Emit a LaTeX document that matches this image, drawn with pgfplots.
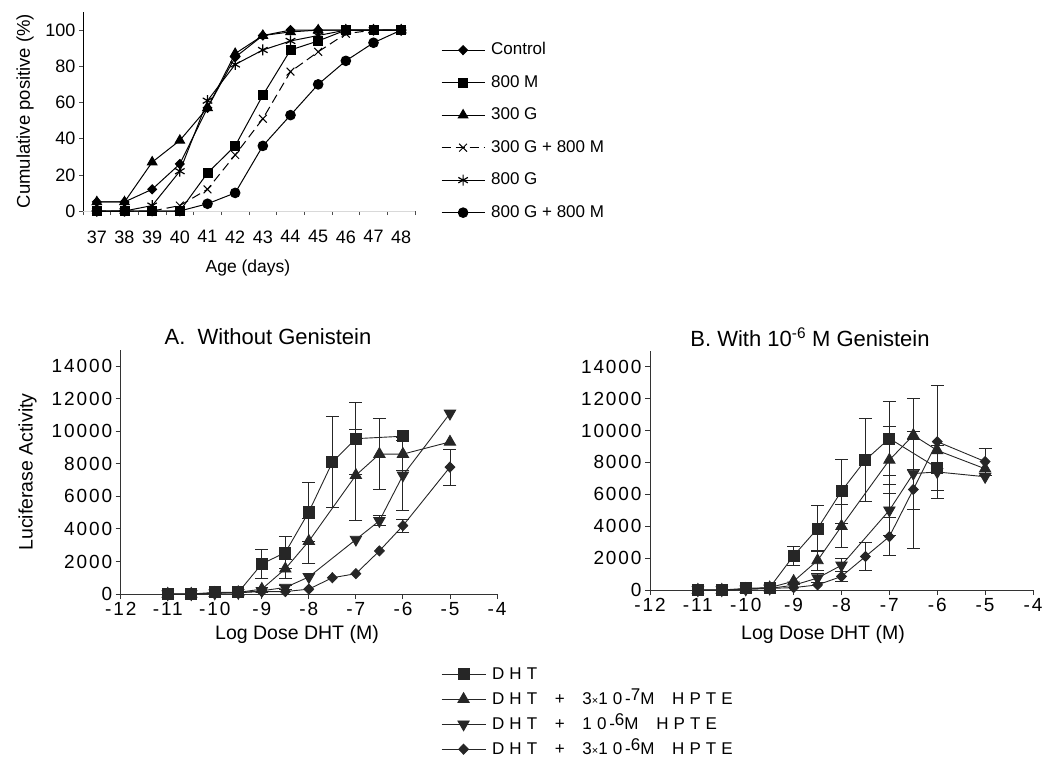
\documentclass[border=0pt]{standalone}
\usepackage{pgfplots}
\pgfplotsset{compat=1.18}
\usepackage{fontspec}
\setmainfont{Liberation Sans}
\newfontfamily\legfont[LetterSpace=30, WordSpace=1.8]{Liberation Sans}
\newfontfamily\tickfont[LetterSpace=10]{Liberation Sans}
\newcommand{\fs}[1]{\fontsize{#1}{#1}\selectfont}

\pgfplotsset{
  topax/.style={
    scale only axis, clip=false,
    axis x line*=bottom, axis y line*=left,
    x axis line style={draw=black!15},
    y axis line style={line width=0.8pt},
    tick align=outside, major tick length=4pt,
    every tick/.style={black!70, line width=0.6pt},
    /pgf/number format/assume math mode=true,
    tick label style={font=\fs{18}},
  },
  doseax/.style={
    scale only axis, clip=false,
    axis x line*=bottom, axis y line*=left,
    xmin=-12, xmax=-4, ymin=0, ymax=15000,
    xtick={-12,...,-4}, ytick={0,2000,...,14000},
    tick align=outside, major tick length=5pt,
    /pgf/number format/assume math mode=true,
    scaled y ticks=false,
    yticklabel style={/pgf/number format/1000 sep={}},
    tick label style={font=\tickfont\fs{19}},
    axis line style={line width=0.9pt, black!80},
    every tick/.style={line width=0.9pt, black!80},
  },
  tser/.style={black, line width=1pt},
  dser/.style={black!85, line width=0.9pt},
  ebar/.style={only marks, mark=none, forget plot, black!85,
    error bars/y dir=both, error bars/y explicit,
    error bars/error bar style={line width=0.9pt, black!85},
    error bars/error mark options={rotate=90, mark size=6.5pt, line width=0.9pt, black!85}},
}

\begin{document}
\begin{tikzpicture}
\useasboundingbox (0,0) rectangle (1045pt,-758pt);

% ---- top: onset by age
\begin{axis}[topax, at={(83pt,-211pt)}, anchor=south west,
  width=332pt, height=199pt,
  xmin=36.5, xmax=48.5, ymin=0, ymax=110,
  xtick={36.5,37.5,...,48.5}, xticklabels={},
  extra x ticks={37,...,48},
  extra x tick style={major tick length=0pt, xticklabel style={yshift=-16pt}},
  ytick={0,20,...,100},
  legend cell align=left,
  legend style={at={(1.078,0.852)}, anchor=north west, draw=none, fill=none,
    inner sep=0pt, row sep=15.5pt, column sep=5pt,
    nodes={inner sep=1pt, text height=12pt, text depth=3pt, font=\fs{17}}},
  legend image code/.code={\draw[mark repeat=2, mark phase=2, #1] plot coordinates {(0pt,0pt) (21.5pt,0pt) (43pt,0pt)};},
]
\addplot[tser, mark=diamond*, mark size=4.5pt, mark options={solid, xscale=1.3}] coordinates {
 (37,5) (38,5) (39,12) (40,26) (41,57) (42,85) (43,97) (44,100) (45,100) (46,100) (47,100) (48,100)};
\addlegendentry{Control}
\addplot[tser, mark=square*, mark size=4.5pt, mark options={solid}] coordinates {
 (37,0) (38,0) (39,0) (40,0) (41,21) (42,36) (43,64) (44,89) (45,94) (46,100) (47,100) (48,100)};
\addlegendentry{800 M}
\addplot[tser, mark=triangle*, mark size=5.5pt, mark options={solid}] coordinates {
 (37,5) (38,5) (39,27) (40,39) (41,57) (42,87) (43,97) (44,99) (45,100) (46,100) (47,100) (48,100)};
\addlegendentry{300 G}
\addplot[tser, dash pattern=on 9pt off 5pt, mark=x, mark size=5.5pt, mark options={solid}] coordinates {
 (37,0) (38,0) (39,0) (40,3) (41,12) (42,31) (43,51) (44,77) (45,88) (46,98) (47,100) (48,100)};
\addlegendentry{300 G + 800 M}
\addplot[tser, mark=asterisk, mark size=5.5pt, mark options={solid, line width=1.2pt}] coordinates {
 (37,0) (38,0) (39,3) (40,22) (41,61) (42,81) (43,89) (44,94) (45,97) (46,100) (47,100) (48,100)};
\addlegendentry{800 G}
\addplot[tser, mark=*, mark size=4.8pt, mark options={solid}] coordinates {
 (37,0) (38,0) (39,0) (40,0) (41,4) (42,10) (43,36) (44,53) (45,70) (46,83) (47,93) (48,100)};
\addlegendentry{800 G + 800 M}
\end{axis}
\node[rotate=90, font=\fs{18.5}] at (25pt,-111pt) {Cumulative positive (\%)};
\node[font=\fs{17.5}] at (248pt,-268pt) {Age (days)};

% ---- A: without genistein
\begin{axis}[doseax, at={(120.7pt,-594pt)}, anchor=south west,
  width=376.3pt, height=244pt,
  legend cell align=left,
  legend style={at={(0.851,-0.291)}, anchor=north west, draw=none, fill=none,
    inner sep=0pt, row sep=7pt, column sep=5pt,
    nodes={inner sep=1pt, text height=13pt, text depth=3pt, font=\legfont\fs{17}}},
  legend image code/.code={\draw[mark repeat=2, mark phase=2, #1] plot coordinates {(0pt,0pt) (22pt,0pt) (44pt,0pt)};},
]
\addplot[dser, mark=square*, mark size=5.5pt, mark options={solid}] coordinates {
 (-11,0) (-10.5,0) (-10,100) (-9.5,100) (-9,1850) (-8.5,2550) (-8,5050) (-7.5,8100) (-7,9550) (-6,9700)};
\addlegendentry{DHT}
\addplot[dser, mark=triangle*, mark size=6.5pt, mark options={solid}] coordinates {
 (-11,0) (-10.5,0) (-10,50) (-9.5,100) (-9,300) (-8.5,1550) (-8,3250) (-7,7300) (-6.5,8600) (-6,8600) (-5,9350)};
\addlegendentry{DHT + 3{\fs{11}×}10\,-\raisebox{4pt}{7}M HPTE}
\addplot[dser, mark=triangle*, mark size=6.5pt, mark options={solid, rotate=180}] coordinates {
 (-11,0) (-10.5,0) (-10,50) (-9.5,80) (-9,200) (-8.5,400) (-8,1050) (-7,3350) (-6.5,4500) (-6,7300) (-5,11100)};
\addlegendentry{DHT + 10\,-\raisebox{4pt}{6}M HPTE}
\addplot[dser, mark=diamond*, mark size=5pt, mark options={solid, xscale=1.3}] coordinates {
 (-11,0) (-10.5,0) (-10,50) (-9.5,80) (-9,150) (-8.5,150) (-8,300) (-7.5,1000) (-7,1250) (-6.5,2650) (-6,4200) (-5,7800)};
\addlegendentry{DHT + 3{\fs{11}×}10\,-\raisebox{4pt}{6}M HPTE}
\addplot[ebar] coordinates {
 (-9,1850) +- (0,900) (-8.5,2550) +- (0,1000) (-8,5050) +- (0,1800)
 (-7.5,8100) +- (0,2800) (-7,9550) +- (0,2200)};
\addplot[ebar] coordinates {
 (-8.5,1550) +- (0,600) (-8,3250) +- (0,1400) (-7,7300) +- (0,2800)
 (-6.5,8600) +- (0,2200) (-6,8600) +- (0,1000)};
\addplot[ebar] coordinates {
 (-8.5,400) +- (0,150) (-6.5,4500) +- (0,300) (-6,7300) +- (0,2150)};
\addplot[ebar] coordinates {
 (-6,4200) +- (0,400) (-5,7800) +- (0,1100)};
\end{axis}
\node[font=\fs{22}] at (268pt,-337pt) {A.\ \ Without Genistein};
\node[rotate=90, font=\fs{19.5}] at (27.5pt,-472pt) {Luciferase Activity};
\node[font=\fs{19.5}] at (297pt,-634pt) {Log Dose DHT (M)};

% ---- B: with genistein
\begin{axis}[doseax, at={(650pt,-590pt)}, anchor=south west,
  width=383pt, height=239.3pt,
]
\addplot[dser, mark=square*, mark size=5.5pt, mark options={solid}] coordinates {
 (-11,0) (-10.5,0) (-10,100) (-9.5,150) (-9,2150) (-8.5,3850) (-8,6200) (-7.5,8150) (-7,9500) (-6,7650)};
\addplot[dser, mark=triangle*, mark size=6.5pt, mark options={solid}] coordinates {
 (-11,0) (-10.5,0) (-10,50) (-9.5,150) (-9,550) (-8.5,1850) (-8,4000) (-7,8150) (-6.5,9700) (-6,8750) (-5,7600)};
\addplot[dser, mark=triangle*, mark size=6.5pt, mark options={solid, rotate=180}] coordinates {
 (-11,0) (-10.5,0) (-10,50) (-9.5,100) (-9,300) (-8.5,750) (-8,1550) (-7,5000) (-6.5,7300) (-6,7400) (-5,7100)};
\addplot[dser, mark=diamond*, mark size=5pt, mark options={solid, xscale=1.3}] coordinates {
 (-11,0) (-10.5,0) (-10,50) (-9.5,100) (-9,150) (-8.5,320) (-8,850) (-7.5,2100) (-7,3350) (-6.5,6300) (-6,9300) (-5,8050)};
\addplot[ebar] coordinates {
 (-9,2150) +- (0,600) (-8.5,3850) +- (0,1450) (-8,6200) +- (0,2000)
 (-7.5,8150) +- (0,2600) (-7,9500) +- (0,2300) (-6,7650) +- (0,1400)};
\addplot[ebar] coordinates {
 (-8.5,1850) +- (0,600) (-8,4000) +- (0,1350) (-7,8150) +- (0,2100) (-6.5,9700) +- (0,250)};
\addplot[ebar] coordinates {
 (-8.5,750) +- (0,300) (-8,1550) +- (0,400) (-7,5000) +- (0,1600) (-6.5,7300) +- (0,4700)};
\addplot[ebar] coordinates {
 (-8,850) +- (0,300) (-7.5,2100) +- (0,850) (-7,3350) +- (0,1200)
 (-6.5,6300) +- (0,1250) (-6,9300) +- (0,3550) (-5,8050) +- (0,850)};
\end{axis}
\node[font=\fs{22}] at (810pt,-337pt) {B. With 10\textsuperscript{-6} M Genistein};
\node[font=\fs{19.5}] at (823pt,-634pt) {Log Dose DHT (M)};
\end{tikzpicture}
\end{document}
